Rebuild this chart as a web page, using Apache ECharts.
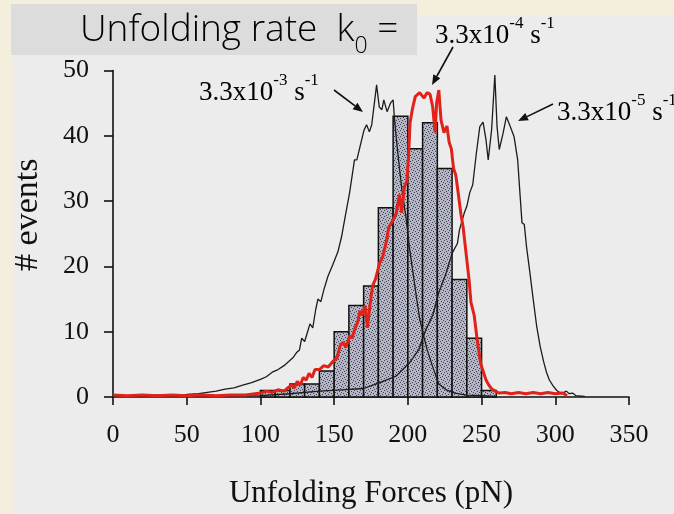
<!DOCTYPE html>
<html>
<head>
<meta charset="utf-8">
<script src="https://cdn.jsdelivr.net/npm/echarts@6/dist/echarts.min.js"></script>
<style>
html,body{margin:0;padding:0;background:#f4eedd;}
#chart{width:674px;height:514px;}
</style>
</head>
<body>
<div id="chart"></div>
<script>
// ---------------- data ----------------
const xTicks = [0, 50, 100, 150, 200, 250, 300, 350];
const yTicks = [0, 10, 20, 30, 40, 50];

// histogram of measured unfolding forces (10 pN bins)
const binStart = [100, 110, 120, 130, 140, 150, 160, 170, 180, 190, 200, 210, 220, 230, 240, 250];
const binCount = [1, 1, 2, 2, 4, 10, 14, 17, 29, 43, 38, 42, 35, 18, 9, 1];
const BIN_WIDTH = 10;

// simulated distribution, k0 = 3.3x10^-3 s^-1
const fastForce = [0,10,20,30,40,50,58,64,70,76,82,88,94,100,104,108,112,116,119,122,124.5,126.5,128,130,132,133.6,135.5,137.5,139,141,143,145.8,149,152.5,155,157,160.5,163.8,165.4,168.7,170.3,172,173.9,175.5,178.8,180.6,182.4,183.7,185.9,188.2,190,191,192.5,194.4,196.2,198.7,201,203.5,206,208,210,213,217,221,226,232,240,250,260];
const fastCount = [0.2,0.2,0.2,0.3,0.3,0.4,0.5,0.7,0.9,1.2,1.4,1.8,2.2,2.7,3.1,3.8,4.2,4.8,5.4,6.0,6.8,7.2,9.0,8.5,10.0,11.2,10.6,13.4,15.0,14.6,16.4,18.5,20.2,22.2,24.5,27,31.3,36.3,36.3,39.4,40.9,41.7,40.6,41.7,47.8,44.4,44,45.5,43.7,45,45.5,42.4,38.9,34.8,31.3,27.6,23,19,15,12,10,7.3,4.5,2,1.1,0.6,0.3,0.2,0.1];

// simulated distribution, k0 = 3.3x10^-4 s^-1 (red)
const midForce = [0,10,20,30,40,50,60,70,80,90,100,104,108,112,116,118,121,123,125,127,129,131,133,135,137,140,143,146,149,152,154,156,158,160.5,162,164,166,167.6,169,171,172.6,174,176,178,181,183,185.7,187,189,192,194.3,195.8,197.6,199.3,200.5,201.5,203,205,208,211,213,215,216.8,218.5,219.5,221,222.5,224.5,226.5,228,229.5,231,232.5,234,236,237.5,239.5,241.5,242.8,245,247,249.5,251,253,255,257,260,262,266,270,275,280,285,290,295,300,305,308];
const midCount = [0.3,0.2,0.3,0.2,0.3,0.2,0.3,0.2,0.3,0.3,0.6,0.9,0.7,1.1,0.9,1.3,1.8,1.4,2.4,1.8,3.0,2.6,3.6,3.0,4.2,4.2,4.8,4.6,5.4,6.0,7.8,8.4,7.6,9.4,9.0,10.4,11.5,13.2,12.5,14.0,10.6,13.5,17,18,20.6,21.5,24.1,26,26.7,28,31,28.2,32.2,33,37,42,44,46,46.6,45.8,46.6,46.4,44.5,40.5,45,47,42.4,40.5,41.5,39,38,35,34,31.5,28,26,22,18,14.5,12.5,8.8,5,4,2.6,1.8,1.2,0.8,0.6,0.7,0.5,0.7,0.5,0.7,0.5,0.7,0.5,0.6,0.2];

// simulated distribution, k0 = 3.3x10^-5 s^-1
const slowForce = [0,60,100,120,140,155,170,181,192,201,207.5,212,217,221,226,230,233.6,235,238.3,240,242,244,246.5,248.8,251,253,254.5,256.8,259,260.5,262,264.6,266.8,269,272,274.5,276,277.4,279,280.5,282.8,285,287.4,289.7,292,294,296,298.5,301,303,305,307.5,309.5,311.7,314,320];
const slowCount = [0.1,0.1,0.2,0.5,0.9,1.1,1.3,2.2,3.2,5.2,7.3,10.2,12.6,16,19,22,23.5,25.6,28.2,29.2,31.3,32.5,37.4,41.4,42.1,39.4,36.3,40.9,49.3,41.4,37.9,40.4,42.9,41.7,39.9,36.3,31.3,26.7,26.4,23,19,15,10.8,7.8,5.5,3.8,2.6,1.7,1.0,0.7,0.6,0.9,0.5,0.6,0.2,0.1];

// ---------------- chart ----------------
const pairs = (xs, ys) => xs.map((x, i) => [x, ys[i]]);
const histData = binStart.map((s, i) => [s, s + BIN_WIDTH, binCount[i]]);

// speckled fill for histogram bars (fixed dot layout)
function makePattern() {
  const c = document.createElement('canvas');
  c.width = 6; c.height = 6;
  const g = c.getContext('2d');
  g.fillStyle = '#b4b6c3'; g.fillRect(0, 0, 6, 6);
  g.fillStyle = '#3f4258';
  [[0,0],[3,1],[1,3],[4,4],[5,2],[2,5]].forEach(p => g.fillRect(p[0], p[1], 1, 1));
  return { image: c, repeat: 'repeat' };
}
const barFill = makePattern();

const serif = 'Liberation Serif';
const chart = echarts.init(document.getElementById('chart'), null, { renderer: 'canvas' });

function arrow(x1, y1, x2, y2) {
  const a = Math.atan2(y2 - y1, x2 - x1), L = 10, W = 4;
  const bx = x2 - L * Math.cos(a), by = y2 - L * Math.sin(a);
  const nx = -Math.sin(a) * W, ny = Math.cos(a) * W;
  return [
    { type: 'line', z: 20, shape: { x1: x1, y1: y1, x2: bx, y2: by }, style: { stroke: '#111', lineWidth: 1.6 } },
    { type: 'polygon', z: 20, shape: { points: [[x2, y2], [bx + nx, by + ny], [bx - nx, by - ny]] }, style: { fill: '#111' } }
  ];
}

const richRate = {
  m: { fontFamily: serif, fontSize: 27, color: '#111', lineHeight: 34, verticalAlign: 'bottom' },
  s: { fontFamily: serif, fontSize: 17, color: '#111', lineHeight: 18, verticalAlign: 'top' }
};
function rateText(x, y, exp) {
  return {
    type: 'text', z: 20, left: x, top: y,
    style: { text: '{m|3.3x10}{s|-' + exp + '}{m| s}{s|-1}', rich: richRate }
  };
}

const option = {
  animation: false,
  backgroundColor: '#f4eedd',
  grid: { left: 113, right: 45, top: 70.5, bottom: 116, containLabel: false },
  xAxis: {
    type: 'value', min: xTicks[0], max: xTicks[xTicks.length - 1], interval: 50,
    axisLine: { onZero: false, lineStyle: { color: '#111', width: 1.6 } },
    axisTick: { inside: false, length: 8, lineStyle: { color: '#111', width: 1.6 } },
    axisLabel: { fontFamily: serif, fontSize: 26, color: '#111', margin: 25 },
    splitLine: { show: false },
    name: 'Unfolding Forces (pN)', nameLocation: 'middle', nameGap: 81,
    nameTextStyle: { fontFamily: serif, fontSize: 31, color: '#111' }
  },
  yAxis: {
    type: 'value', min: yTicks[0], max: yTicks[yTicks.length - 1], interval: 10,
    axisLine: { onZero: false, lineStyle: { color: '#111', width: 1.6 } },
    axisTick: { inside: false, length: 9, lineStyle: { color: '#111', width: 1.6 } },
    axisLabel: { fontFamily: serif, fontSize: 26, color: '#111', margin: 24 },
    splitLine: { show: false },
    name: '# events', nameLocation: 'middle', nameGap: 68, nameRotate: 90,
    nameTextStyle: { fontFamily: serif, fontSize: 34, color: '#111', padding: [0, 0, 0, 38] }
  },
  graphic: [
    { type: 'rect', z: -10, shape: { x: 13, y: 15, width: 661, height: 499 }, style: { fill: '#ececec' } },
    { type: 'rect', z: -9, shape: { x: 11, y: 4, width: 406, height: 51 }, style: { fill: '#dcdcdc' } },
    {
      type: 'text', z: 20, left: 80, top: 12,
      style: {
        text: '{m|Unfolding rate  k}{b|0}{m| =}',
        rich: {
          m: { fontFamily: 'Open Sans', fontWeight: 300, fontSize: 37, color: '#111', lineHeight: 46, verticalAlign: 'top' },
          b: { fontFamily: 'Open Sans', fontWeight: 300, fontSize: 23, color: '#111', lineHeight: 46, verticalAlign: 'bottom', padding: [15, 0, 0, 0] }
        }
      }
    },
    rateText(199, 72, 3),
    rateText(435, 15, 4),
    rateText(557, 92, 5),
    ...arrow(334, 90, 363, 112),
    ...arrow(453, 47, 432, 85),
    ...arrow(553, 104, 518, 121)
  ],
  series: [
    {
      type: 'custom', name: 'measured', z: 2,
      renderItem: function (params, api) {
        const p0 = api.coord([api.value(0), api.value(2)]);
        const p1 = api.coord([api.value(1), 0]);
        return {
          type: 'rect',
          shape: { x: p0[0], y: p0[1], width: p1[0] - p0[0], height: p1[1] - p0[1] },
          style: { fill: barFill, stroke: '#111', lineWidth: 1.5 }
        };
      },
      encode: { x: [0, 1], y: 2 },
      data: histData
    },
    { type: 'line', name: 'k0 3.3e-3', z: 3, showSymbol: false, data: pairs(fastForce, fastCount), lineStyle: { color: '#1c1c1c', width: 1.3 } },
    { type: 'line', name: 'k0 3.3e-5', z: 3, showSymbol: false, data: pairs(slowForce, slowCount), lineStyle: { color: '#1c1c1c', width: 1.3 } },
    { type: 'line', name: 'k0 3.3e-4', z: 4, showSymbol: false, data: pairs(midForce, midCount), lineStyle: { color: '#e0221a', width: 3 } }
  ]
};
chart.setOption(option);
</script>
</body>
</html>
